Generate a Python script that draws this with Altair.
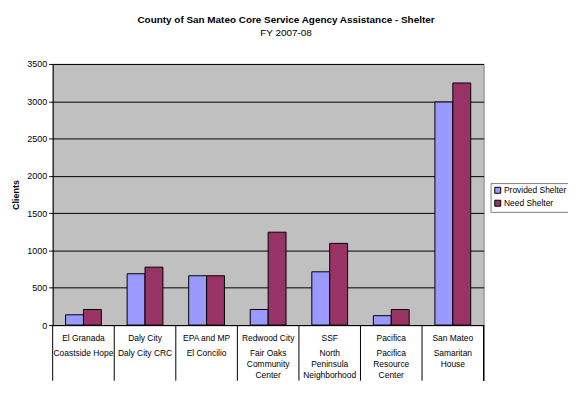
import altair as alt
import pandas as pd

# ---- data ----
cities = ["El Granada", "Daly City", "EPA and MP", "Redwood City", "SSF", "Pacifica", "San Mateo"]
agencies = ["Coastside Hope", "Daly City CRC", "El Concilio",
            "Fair Oaks\nCommunity\nCenter", "North\nPeninsula\nNeighborhood",
            "Pacifica\nResource\nCenter", "Samaritan\nHouse"]
series_names = ["Provided Shelter", "Need Shelter"]
provided = [138, 688, 661, 209, 714, 126, 2990]
need = [209, 776, 661, 1245, 1095, 209, 3245]
y_ticks = [0, 500, 1000, 1500, 2000, 2500, 3000, 3500]
colors = ["#9999FF", "#993366"]

rows = []
for c, p, n in zip(cities, provided, need):
    rows.append({"city": c, "series": series_names[0], "value": p})
    rows.append({"city": c, "series": series_names[1], "value": n})
df = pd.DataFrame(rows)
df_cat = pd.DataFrame({"city": cities, "agency": agencies})

W, H = 434, 263
FONT = "Liberation Sans"

xscale = alt.Scale(domain=cities, paddingInner=0, paddingOuter=0)

bars = alt.Chart(df).mark_bar(stroke="black", strokeWidth=1).encode(
    x=alt.X("city:N", sort=cities, scale=xscale,
            axis=alt.Axis(labels=False, ticks=False, title=None, grid=False,
                          domain=True, domainColor="black", domainWidth=1)),
    xOffset=alt.XOffset("series:N", sort=series_names,
                        scale=alt.Scale(domain=series_names, paddingOuter=0.72, paddingInner=0)),
    y=alt.Y("value:Q", scale=alt.Scale(domain=[0, 3500], nice=False),
            axis=alt.Axis(values=y_ticks, format="d", grid=True, gridColor="black", gridWidth=1,
                          gridOpacity=1, domainColor="black", tickColor="black",
                          tickSize=4, labelFontSize=9, labelFont=FONT, labelColor="black",
                          labelPadding=2, title="Clients", titleFont=FONT,
                          titleFontSize=9, titleFontWeight="bold", titleColor="black",
                          titlePadding=6)),
    color=alt.Color("series:N", sort=series_names,
                    scale=alt.Scale(domain=series_names, range=colors),
                    legend=alt.Legend(title=None, orient="none", legendX=441, legendY=120,
                                      fillColor="white", strokeColor="#808080",
                                      padding=3, symbolType="square", symbolSize=36,
                                      symbolStrokeColor="black", symbolStrokeWidth=1,
                                      labelFont=FONT, labelFontSize=8.5, labelColor="black",
                                      labelOffset=2, rowPadding=2)),
)

lvl1 = alt.Chart(df_cat).mark_text(font=FONT, fontSize=8.5, color="black",
                                   baseline="middle", align="center").encode(
    x=alt.X("city:N", sort=cities, scale=xscale),
    y=alt.value(H + 13),
    text="city:N",
)

lvl2 = alt.Chart(df_cat).mark_text(font=FONT, fontSize=8.5, color="black",
                                   baseline="top", align="center",
                                   lineBreak="\n", lineHeight=11).encode(
    x=alt.X("city:N", sort=cities, scale=xscale),
    y=alt.value(H + 24),
    text="agency:N",
)

seps = alt.Chart(df_cat).mark_rule(color="black", strokeWidth=1).encode(
    x=alt.X("city:N", sort=cities, scale=xscale, bandPosition=0),
    y=alt.value(H),
    y2=alt.value(H + 56),
)

last_sep = alt.Chart(df_cat).mark_rule(color="black", strokeWidth=1).encode(
    x=alt.value(W),
    y=alt.value(H),
    y2=alt.value(H + 56),
)

chart = alt.layer(bars, lvl1, lvl2, seps, last_sep).properties(
    width=W, height=H,
    autosize=alt.AutoSizeParams(type="none"),
    padding={"left": 45, "top": 55, "right": 85, "bottom": 58},
    title=alt.TitleParams(
        text="County of San Mateo Core Service Agency Assistance - Shelter",
        subtitle="FY 2007-08",
        anchor="middle", frame="group", dx=18, offset=22,
        font=FONT, fontSize=10, fontWeight="bold", color="black",
        subtitleFont=FONT, subtitleFontSize=10, subtitleColor="black",
        subtitlePadding=3,
    ),
).configure(
    background="white"
).configure_view(
    fill="#C0C0C0", stroke="#808080", strokeWidth=1
)

chart.save("out.html", embed_options={"renderer": "svg", "actions": False})
